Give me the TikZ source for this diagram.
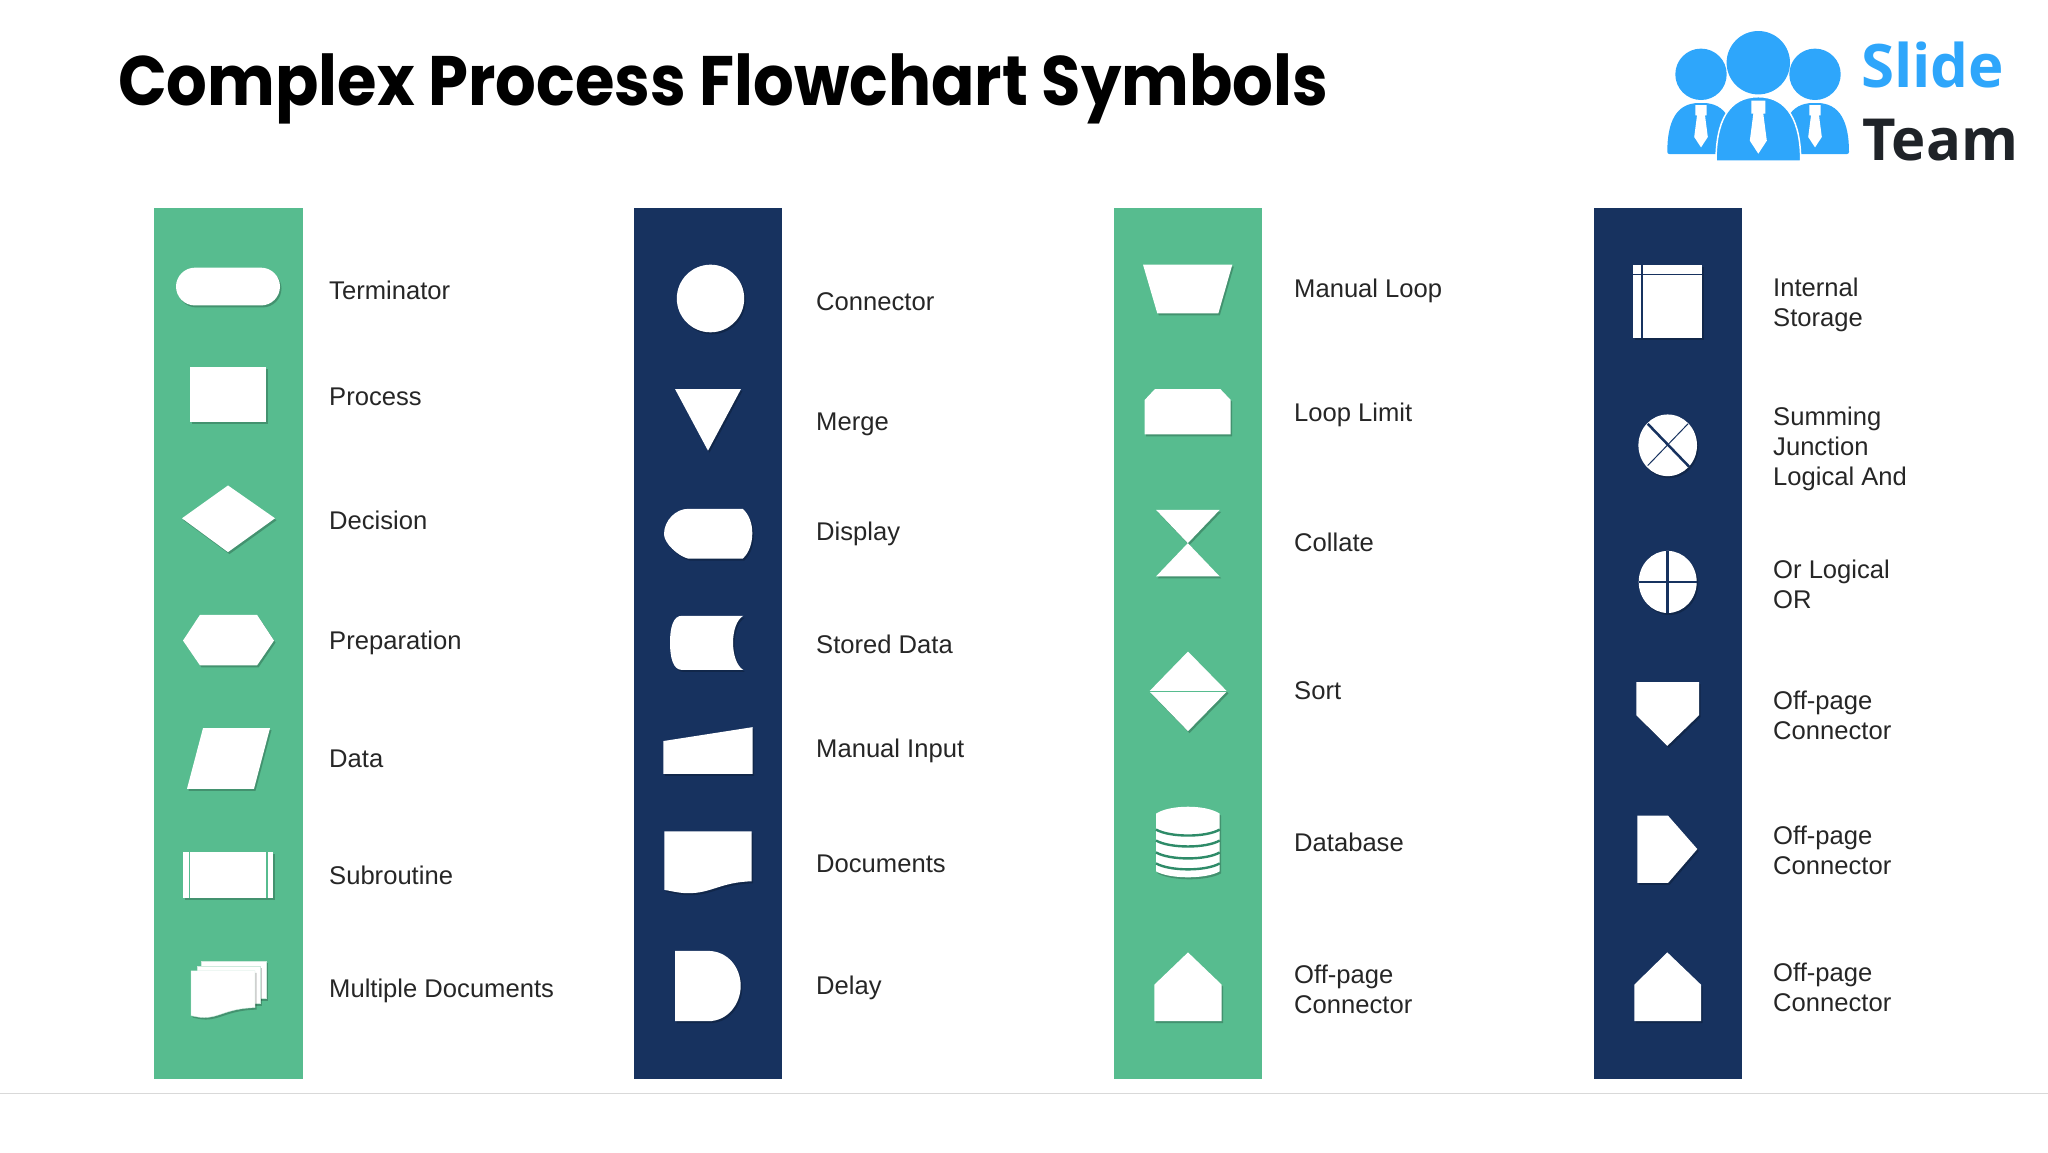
\documentclass[tikz,border=0pt]{standalone}
\usepackage{fontspec}
\setmainfont{Liberation Sans}
\newfontfamily\titlefont[FakeStretch=0.914]{Poppins}
\newfontfamily\logofont{Open Sans}
\usetikzlibrary{shadows}
\definecolor{slidegreen}{HTML}{57BC8F}
\definecolor{slidenavy}{HTML}{17325F}
\definecolor{darkgreen}{HTML}{2E8B68}
\definecolor{palegreen}{HTML}{CFE9DD}
\definecolor{logoblue}{HTML}{2EA6FB}
\definecolor{logodark}{HTML}{1F2328}
\tikzset{
  symbol/.style={fill=white, drop shadow={shadow xshift=1.5pt, shadow yshift=-2pt, opacity=0.22, fill=black}},
  lbl/.style={anchor=west, align=left, inner sep=0pt, font=\fontsize{25.6}{30}\selectfont, text=black!85}
}
\begin{document}
\begin{tikzpicture}[x=1pt,y=-1pt]
\useasboundingbox (0,0) rectangle (2048,1152);

\node[anchor=base west, inner sep=0pt, font=\titlefont\fontsize{70}{70}\selectfont\bfseries] (title) at (118,105) {Complex Process Flowchart Symbols};

% columns
\fill[slidegreen] (154,208) rectangle (303,1079);
\fill[slidenavy] (634,208) rectangle (782,1079);
\fill[slidegreen] (1114,208) rectangle (1262,1079);
\fill[slidenavy] (1594,208) rectangle (1742,1079);
\draw[black!15] (0,1093) -- (2048,1093);

\begin{scope}[y=-0.9945pt, shift={(0,1.14)}]
% first column
\fill[symbol, rounded corners=19pt] (176,268) rectangle (280,306);
\fill[symbol] (190,368) rectangle (266,423);
\fill[symbol] (182,520) -- (228,487) -- (275,520) -- (228,554) -- cycle;
\fill[symbol] (183,643) -- (200,617) -- (257,617) -- (274,643) -- (257,668) -- (200,668) -- cycle;
\fill[symbol] (187,792) -- (203,731) -- (270,731) -- (254,792) -- cycle;
\fill[symbol] (183,856) rectangle (273,902);
\draw[slidegreen, line width=1.5pt] (189.5,856) -- (189.5,902) (267,856) -- (267,902);
\fill[symbol, draw=palegreen] (201,965) rectangle (266,1003);
\fill[symbol, draw=palegreen] (197,970) rectangle (260,1008);
\fill[symbol, draw=palegreen] (191,975) -- (255,975) -- (255,1012) .. controls (226,1013) and (220,1022) .. (204,1022) .. controls (200,1022) and (195,1021) .. (191,1020) -- cycle;

% second column
\fill[symbol] (710.5,299) circle[x radius=33.7, y radius=34];
\fill[symbol] (675,390) -- (741,390) -- (708,452) -- cycle;
\fill[symbol] (688,510.5) -- (742.7,510.5) .. controls (749,516) and (752.3,525) .. (752.3,535) .. controls (752.3,545) and (749,555) .. (742.7,560.5) -- (688,560.5) .. controls (678,558) and (664,545) .. (664,536) .. controls (664,522) and (676,510.5) .. (688,510.5) -- cycle;
\fill[symbol] (682,618) -- (743.3,618) .. controls (729.6,626) and (729.6,664) .. (743.3,672.5) -- (682,672.5) .. controls (673,672.5) and (670,660) .. (670,645) .. controls (670,630) and (673,618) .. (682,618) -- cycle;
\fill[symbol] (663.3,744) -- (752.7,730) -- (752.7,777) -- (663.3,777) -- cycle;
\fill[symbol] (664.3,834.7) -- (751.7,834.7) -- (751.7,885) .. controls (720,886) and (712,897) .. (688,897) .. controls (680,897) and (672,895) .. (664.3,893.6) -- cycle;
\fill[symbol] (675,955) -- (708,955) .. controls (728,955) and (740.7,972) .. (740.7,990) .. controls (740.7,1008) and (728,1025.7) .. (708,1025.7) -- (675,1025.7) -- cycle;

% third column
\fill[symbol] (1143,265) -- (1232.3,265) -- (1218.3,314) -- (1157.3,314) -- cycle;
\fill[symbol] (1155,390) -- (1220.3,390) -- (1230.7,401) -- (1230.7,435.5) -- (1144.7,435.5) -- (1144.7,401) -- cycle;
\fill[symbol] (1156,511.5) -- (1219.7,511.5) -- (1156,578.5) -- (1219.7,578.5) -- cycle;
\fill[symbol] (1188,654) -- (1227,694) -- (1188,734) -- (1149.3,694) -- cycle;
\draw[slidegreen, line width=0.7pt] (1149.3,694) -- (1227,694);
\fill[symbol] (1156,817) .. controls (1170,807.7) and (1206,807.7) .. (1219.7,817) -- (1219.7,875) .. controls (1206,883) and (1170,883) .. (1156,875) -- cycle;
\foreach \ystripe in {839,850,862,873} {
  \draw[darkgreen, line width=2.4pt] (1156,\ystripe-6) .. controls (1170,\ystripe+2) and (1206,\ystripe+2) .. (1219.7,\ystripe-6);
}
\fill[symbol] (1188,956.5) -- (1221.7,989) -- (1221.7,1025.7) -- (1154.3,1025.7) -- (1154.3,989) -- cycle;

% fourth column
\fill[symbol] (1633.3,265) rectangle (1702,339);
\draw[slidenavy, line width=1.5pt] (1642,265) -- (1642,339) (1633.3,275) -- (1702,275);
\fill[symbol] (1667.7,446.6) circle[x radius=29.3, y radius=31];
\draw[slidenavy, line width=2.5pt] (1647.7,425) -- (1689,468);
\draw[slidenavy, line width=1pt] (1647.7,467) -- (1688,425);
\fill[symbol] (1667.7,584) circle[x radius=29, y radius=31.2];
\draw[slidenavy, line width=2.5pt] (1667.7,553) -- (1667.7,615);
\draw[slidenavy, line width=1.5pt] (1638.7,584) -- (1696.7,584);
\fill[symbol] (1636.3,684.7) -- (1699,684.7) -- (1699,718) -- (1667.3,748.8) -- (1636.3,718) -- cycle;
\fill[symbol] (1637.3,819) -- (1668,819) -- (1697.3,852.6) -- (1668,886.7) -- (1637.3,886.7) -- cycle;
\fill[symbol] (1667.3,956.5) -- (1701,989) -- (1701,1025.7) -- (1634.3,1025.7) -- (1634.3,989) -- cycle;
\end{scope}

% labels
\foreach \nm/\xpos/\ypos/\txt in {
  term/329/290/Terminator, proc/329/397/Process, deci/329/520/Decision,
  prep/329/643/Preparation, data/329/759/Data, subr/329/875/Subroutine,
  mult/329/991/Multiple Documents,
  conn/816/302/Connector, merg/816/424/Merge, disp/816/534/Display,
  stor/816/644/Stored Data, manu/816/751/Manual Input, docs/816/864/Documents,
  dela/816/988/Delay,
  loop/1294/291/Manual Loop, limi/1294/415/Loop Limit, coll/1294/542/Collate,
  sort/1294/691/Sort, base/1294/842/Database, offa/1294/989/Off-page\\Connector,
  stgi/1773/305/Internal\\Storage, summ/1773/449/Summing\\Junction\\Logical And,
  orlg/1773/584/Or Logical\\OR, offb/1773/715/Off-page\\Connector,
  offc/1773/850/Off-page\\Connector, offd/1773/987/Off-page\\Connector} {
  \node[lbl] (\nm) at (\xpos,\ypos) {\txt};
}

% logo
\fill[logoblue] (1758.3,62.7) circle[radius=31.7];
\fill[logoblue] (1701,74.3) circle[radius=25.7];
\fill[logoblue] (1815,74.3) circle[radius=25.7];
\fill[logoblue, rounded corners=2pt] (1667.3,154) .. controls (1667.3,122) and (1676,103) .. (1701,103) .. controls (1726,103) and (1735,122) .. (1735,154) -- cycle;
\fill[logoblue, rounded corners=2pt] (1781,154) .. controls (1781,122) and (1790,103) .. (1815,103) .. controls (1840,103) and (1849,122) .. (1849,154) -- cycle;
\fill[logoblue, draw=white, line width=1.5pt] (1716,161) .. controls (1716,122) and (1728,96.7) .. (1758.3,96.7) .. controls (1788,96.7) and (1800.7,122) .. (1800.7,161) -- cycle;
\foreach \xtie/\ytie/\sz in {1701/105/0.8, 1758.3/100.7/1, 1815/105/0.8} {
  \fill[white, shift={(\xtie,\ytie)}, scale=\sz] (-7,0) -- (7,0) -- (7,13) -- (5,13) -- (8.5,40) -- (0,53) -- (-8.5,40) -- (-5,13) -- (-7,13) -- cycle;
}
\node[anchor=base west, inner sep=0pt, text=logoblue, font=\logofont\fontsize{60}{60}\selectfont\bfseries] (slide) at (1861,87) {Slide};
\node[anchor=base west, inner sep=0pt, text=logodark, font=\logofont\fontsize{58}{58}\selectfont\bfseries] (team) at (1862,160) {Team};
\end{tikzpicture}
\end{document}
